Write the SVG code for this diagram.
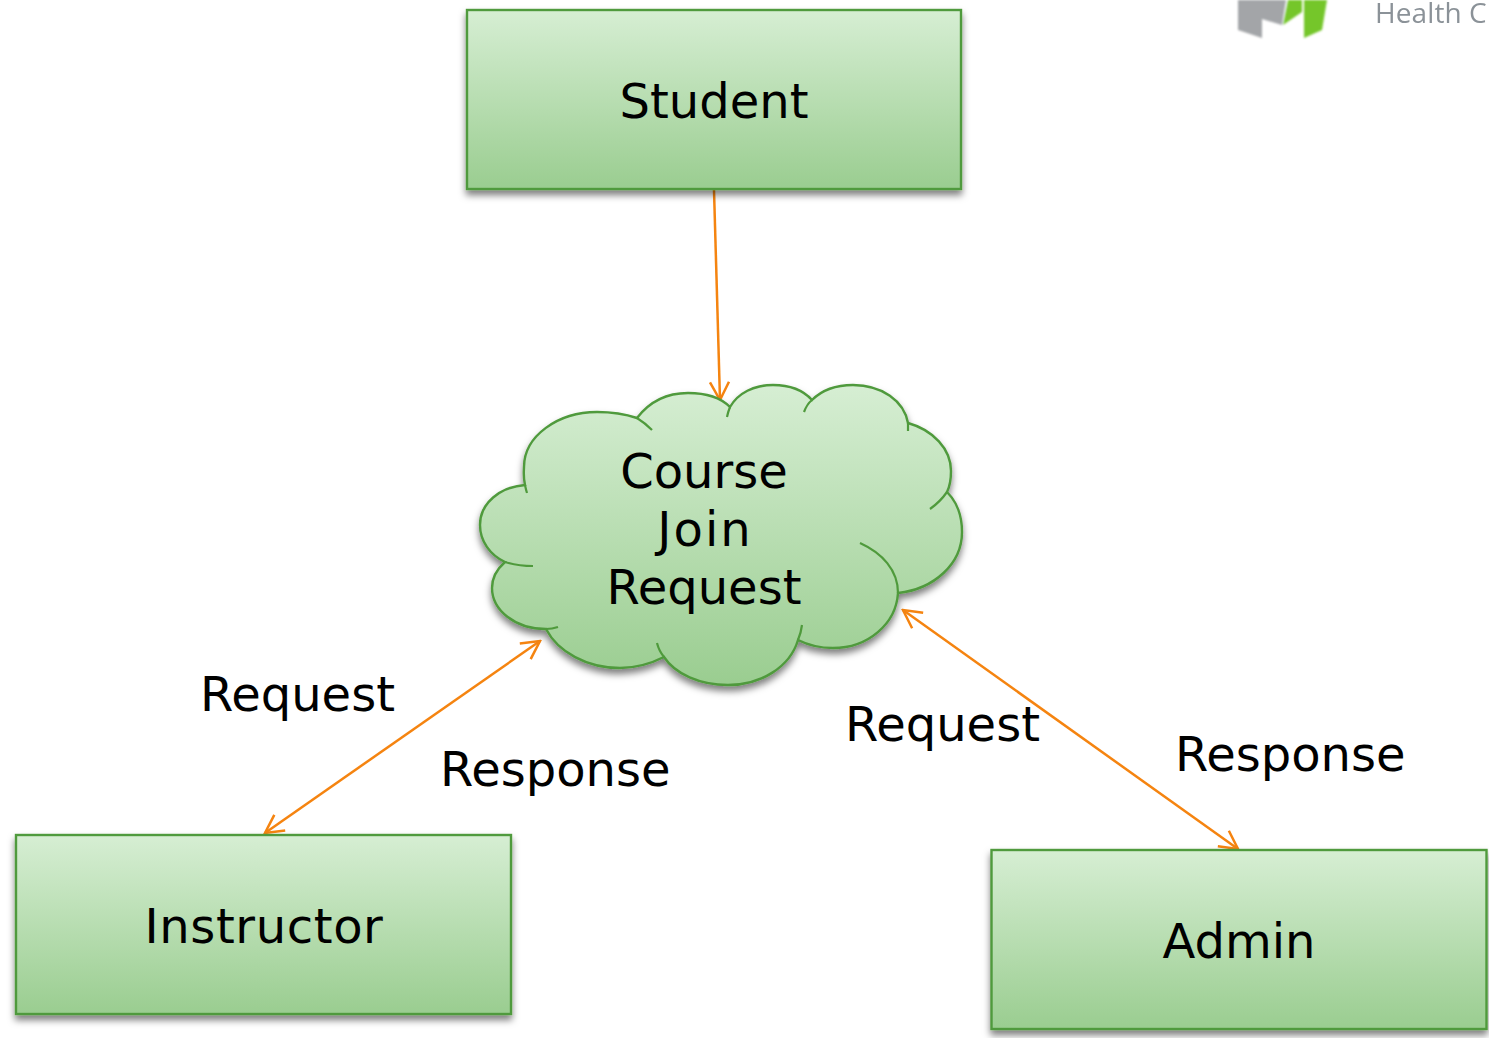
<svg xmlns="http://www.w3.org/2000/svg" width="1489" height="1038" viewBox="0 0 1489 1038">
<style>
.box{fill:url(#g);stroke:#4f9a3c;stroke-width:2.4;filter:url(#s)}
.in{fill:none;stroke:#4f9a3c;stroke-width:2.2}
.t{font-family:"DejaVu Sans",Verdana,sans-serif;font-size:48px;fill:#000;text-anchor:middle}
.l{font-family:"DejaVu Sans",Verdana,sans-serif;font-size:48px;fill:#000}
.c{fill:none;stroke:#f58410;stroke-width:2.5}
</style>
<defs>
<linearGradient id="g" x1="0" y1="0" x2="0" y2="1"><stop offset="0" stop-color="#d6eed3"/><stop offset="1" stop-color="#9acd90"/></linearGradient>
<filter id="s" x="-5%" y="-10%" width="110%" height="125%"><feDropShadow dx="0" dy="5" stdDeviation="3.500" flood-color="#000" flood-opacity=".5"/></filter>
<filter id="b"><feGaussianBlur stdDeviation="1"/></filter>
<filter id="b2"><feGaussianBlur stdDeviation=".6"/></filter>
<marker id="a" markerWidth="24" markerHeight="24" refX="22" refY="12" orient="auto-start-reverse" markerUnits="userSpaceOnUse"><path d="M4 2.5L22 12L4 21.500" fill="none" stroke="#f58410" stroke-width="2.5"/></marker>
</defs>
<g id="logo">
<g filter="url(#b)">
<path d="M1238 0V30L1262 38V19L1282 25L1286 0Z" fill="#a3a5a8"/>
<path d="M1283 25L1288 0H1302V12Z" fill="#74c62a"/>
<path d="M1304 12V38L1322 30L1327 0H1304Z" fill="#74c62a"/>
</g>
<text x="1375" y="22.500" font-family="'Open Sans',sans-serif" font-size="28" letter-spacing=".1" fill="#8b9298" filter="url(#b2)">Health C</text>
</g>
<g id="connectors">
<path class="c" d="M714 190L720 400" marker-end="url(#a)"/>
<path class="c" d="M265 833L540 641" marker-start="url(#a)" marker-end="url(#a)"/>
<path class="c" d="M903 610L1238 849" marker-start="url(#a)" marker-end="url(#a)"/>
</g>
<g id="student"><rect class="box" x="467" y="10" width="494" height="179"/><text class="t" x="714" y="118">Student</text></g>
<g id="instructor"><rect class="box" x="16" y="835" width="495" height="179"/><text class="t" x="264" y="943" letter-spacing=".6">Instructor</text></g>
<g id="admin"><rect class="box" x="991.500" y="850" width="495" height="179"/><text class="t" x="1239" y="958">Admin</text></g>
<g id="cloud">
<path class="box" d="M637 418C650 401 668 393 688 393C706 393 721 398 730 407C738 393 754 385 773 385C790 385 803 390 812 400C822 390 837 385 853 385C882 385 904 401 908 423C933 430 951 449 951 471C951 479 950 486 947 492C957 502 962 516 962 532C962 564 934 589 898 593C896 624 868 648 833 648C820 648 808 645 798 640C790 667 761 685 728 685C700 685 675 674 664 657C650 664 636 668 620 668C587 668 558 652 546 629C515 629 492 610 492 588C492 578 497 569 505 562C490 555 480 541 480 525C480 503 500 487 525 485C523 476 524 470 524 467C524 436 558 412 597 412C612 412 625 414 637 418Z"/>
<path class="in" d="M637 418Q645 423 652 430M730 407Q728 412 727 417M812 400Q807 404 804 412M908 423Q908 427 908 431M947 492Q940 502 930 509M898 593C898 570 882 553 860 543M798 640Q801 633 802 625M664 657Q659 651 657 643M546 629Q552 629 558 627M505 562Q518 566 533 566M525 485Q526 490 527 493"/>
<text class="t" x="704" y="488">Course</text><text class="t" x="705" y="546" letter-spacing="2">Join</text><text class="t" x="704" y="604">Request</text>
</g>
<g id="labels">
<text class="l" x="200" y="711">Request</text>
<text class="l" x="440" y="786">Response</text>
<text class="l" x="845" y="741">Request</text>
<text class="l" x="1175" y="771">Response</text>
</g>
</svg>
